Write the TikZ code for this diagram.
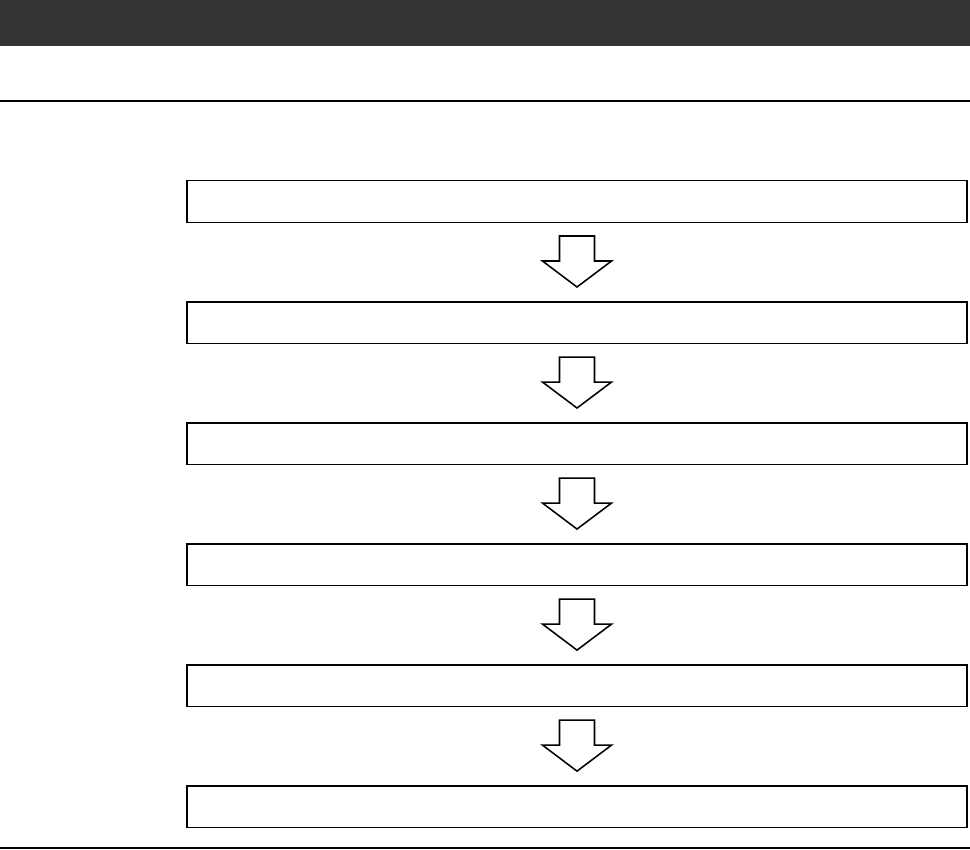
\documentclass[tikz,border=0pt]{standalone}
\usepackage{tikz}
\usetikzlibrary{positioning,calc}
\definecolor{hdrgray}{RGB}{51,51,51}

\begin{document}
\begin{tikzpicture}[x=.025cm,y=.025cm,
  header/.style={fill=hdrgray,draw=none},
  rule/.style={draw=black,line width=1.4pt},
  stage/.style={draw=black,line width=1.1pt,minimum width=19.5cm,minimum height=1.04cm,inner sep=0pt,outer sep=0pt},
  flowarrow/.style={draw=black,line width=1.1pt,fill=white,line join=miter}]

\path[use as bounding box] (0,0) rectangle (970,-849);
\fill[header] (0,0) rectangle (970,-46);
\coordinate (ruleL) at (0,-101);
\coordinate (ruleR) at (970,-101);
\draw[rule] (ruleL)--(ruleR);

\node[stage] (box1) at (577,-201.5) {};
\node[stage,below=1.985cm of box1] (box2) {};
\node[stage,below=1.985cm of box2] (box3) {};
\node[stage,below=1.985cm of box3] (box4) {};
\node[stage,below=1.985cm of box4] (box5) {};
\node[stage,below=1.985cm of box5] (box6) {};

\foreach \i [evaluate=\i as \j using int(\i+1)] in {1,...,4,5}
  \draw[flowarrow] ($(box\i.south)!.5!(box\j.north)$) ++(-17.5,26)
    -- ++(35,0) -- ++(0,-25) -- ++(17,0) -- ++(-34.5,-26)
    -- ++(-34.5,26) -- ++(17,0) -- cycle;

\coordinate (footL) at (0,-848);
\coordinate (footR) at (970,-848);
\draw[black,line width=.8pt] (footL)--(footR);

\end{tikzpicture}
\end{document}
